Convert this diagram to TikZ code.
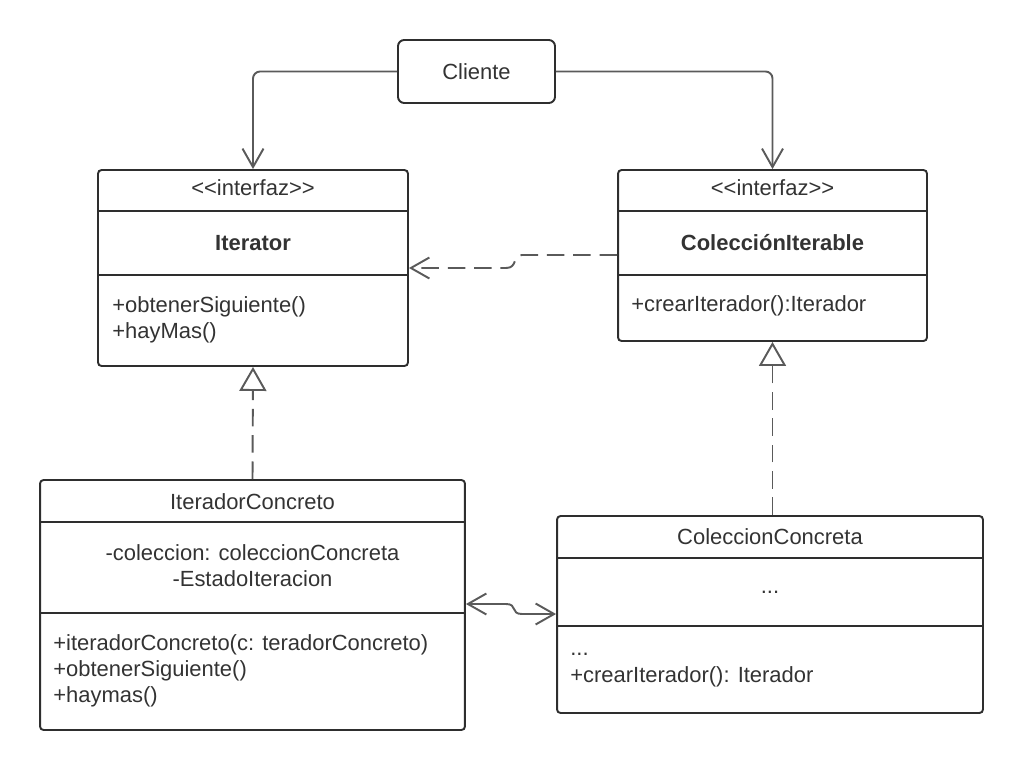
\documentclass[tikz,border=0pt]{standalone}
\usepackage{fontspec}
\setmainfont{Liberation Sans}
\usepackage{tikz}
\usetikzlibrary{arrows.meta,calc,positioning}

\definecolor{boxline}{HTML}{2E2E2E}
\definecolor{conline}{HTML}{5A5A5A}
\definecolor{txtcol}{HTML}{333333}

\begin{document}
\begin{tikzpicture}[x=0.02cm,y=-0.02cm,
  font=\fontsize{12.5}{14.9}\selectfont, text=txtcol,
  classbox/.style={draw=boxline,line width=1.1pt,rounded corners=2pt,inner sep=0pt},
  classline/.style={draw=boxline,line width=1.1pt},
  txt/.style={inner sep=0pt},
  assoc/.style={draw=conline,line width=1.1pt,rounded corners=4pt,-{Straight Barb[length=3.7mm,width=4.2mm]}},
  depend/.style={draw=conline,line width=1.1pt,dash pattern=on 10pt off 5pt,-{Straight Barb[length=3.7mm,width=4.2mm]}},
  realize/.style={draw=conline,line width=1.1pt,dash pattern=on 10pt off 5pt,-{Triangle[open,length=4.8mm,width=5.4mm,fill=white]}},
  both/.style={draw=conline,line width=1.1pt,{Straight Barb[length=3.7mm,width=4.2mm]}-{Straight Barb[length=3.7mm,width=4.2mm]}}]
\useasboundingbox (0,0) rectangle (1024,771);

\node[classbox,rounded corners=3.5pt,minimum width=3.14cm,minimum height=1.26cm] (cli) at (476.5,71.5) {Cliente};
\node[classbox,minimum width=6.2cm,minimum height=3.92cm] (iter) at (253,268) {};
\node[classbox,minimum width=6.18cm,minimum height=3.42cm] (col) at (772.5,255.5) {};
\node[classbox,minimum width=8.5cm,minimum height=5cm] (itc) at (252.5,605) {};
\node[classbox,minimum width=8.52cm,minimum height=3.94cm] (cc) at (770,614.5) {};

\foreach \n/\y in {iter/211,iter/275,col/211,col/275,itc/522,itc/613,cc/558,cc/626}
{\draw[classline] (\n.west |- 0,\y) -- (\n.east |- 0,\y);}

\node[txt] (iterst) at (253,188) {{<}{<}interfaz{>}{>}};
\node[txt,font=\fontsize{12.5}{14.9}\selectfont\bfseries] (itername) at (253,243) {Iterator};
\node[txt,anchor=west,align=left] (itermeth) at (112,320) {+obtenerSiguiente()\\+hayMas()};

\node[txt] (colst) at (772.5,188) {{<}{<}interfaz{>}{>}};
\node[txt,font=\fontsize{12.5}{14.9}\selectfont\bfseries] (colname) at (772.5,243) {ColecciónIterable};
\node[txt,anchor=west] (colmeth) at (631,306) {+crearIterador():Iterador};

\node[txt] (itcname) at (252.5,502) {IteradorConcreto};
\node[txt,align=center] (itcattr) at (252.5,566) {-coleccion: coleccionConcreta\\-EstadoIteracion};
\node[txt,anchor=west,align=left] (itcmeth) at (53,671) {+iteradorConcreto(c: teradorConcreto)\\+obtenerSiguiente()\\+haymas()};

\node[txt] (ccname) at (770,537) {ColeccionConcreta};
\node[txt] (ccattr) at (770,592) {...};
\node[txt,anchor=west,align=left] (ccmeth) at (570,670) {...\\+crearIterador(): Iterador};

\draw[assoc] (cli.west) -| (iter.north);
\draw[assoc] (cli.east) -| (col.north);
\draw[depend] (col.west |- 0,255) -- (522,255) .. controls (512,255) and (518,268) .. (506,268) -- (iter.east |- 0,268);
\draw[realize] (itc.north) -- (iter.south);
\draw[realize] (col.south |- cc.north) -- (col.south);
\draw[both] (itc.east |- 0,604) -- (506,604) .. controls (518,604) and (510,614) .. (522,614) -- (cc.west |- 0,614);
\end{tikzpicture}
\end{document}
